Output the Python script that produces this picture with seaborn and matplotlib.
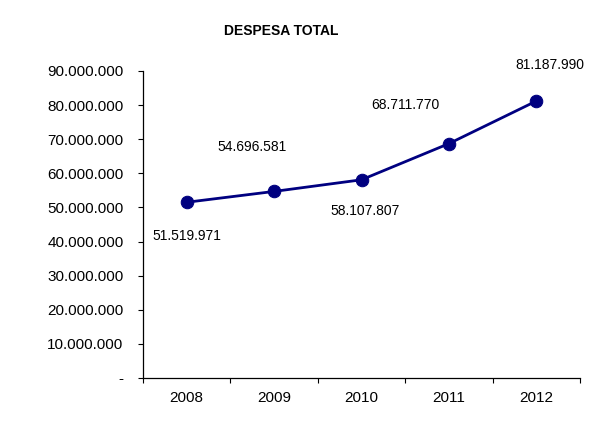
import matplotlib
matplotlib.use("Agg")
import matplotlib.pyplot as plt
import seaborn as sns
import pandas as pd

years = ["2008", "2009", "2010", "2011", "2012"]
values = [51519971, 54696581, 58107807, 68711770, 81187990]
label_texts = ["51.519.971", "54.696.581", "58.107.807", "68.711.770", "81.187.990"]
y_ticks = [0, 10000000, 20000000, 30000000, 40000000, 50000000, 60000000, 70000000, 80000000, 90000000]

sns.set_theme(style="white")
plt.rcParams['font.family'] = ['Liberation Sans', 'DejaVu Sans']
plt.rcParams['text.color'] = 'black'
plt.rcParams['xtick.color'] = 'black'
plt.rcParams['ytick.color'] = 'black'

df = pd.DataFrame({"year": years, "value": values})

fig = plt.figure(figsize=(5.91, 4.38), dpi=100)
ax = fig.add_axes([143/591, 1 - 378/438, (580-143)/591, (378-71)/438])

sns.lineplot(data=df, x="year", y="value", ax=ax, color="#000080", linewidth=2,
             marker="o", markersize=9, markeredgecolor="#000080", sort=False)

ax.set_xlim(-0.5, 4.5)
ax.set_ylim(0, 90000000)
ax.set_yticks(y_ticks)
ax.set_yticklabels(["-" if v == 0 else f"{v:,}".replace(",", ".") for v in y_ticks], fontsize=11)
ax.set_xticks(range(len(years)))
ax.set_xticklabels(years, fontsize=11)
ax.tick_params(axis="x", length=0, pad=9)
ax.tick_params(axis="y", left=True, length=3.6, width=0.8, color="black", pad=10.5)
ax.set_xticks([x - 0.5 for x in range(len(years) + 1)], minor=True)
ax.tick_params(axis="x", which="minor", bottom=True, length=3.6, width=0.8, color="black")
ax.set_xlabel("")
ax.set_ylabel("")
for s in ["top", "right"]:
    ax.spines[s].set_visible(False)
for s in ["left", "bottom"]:
    ax.spines[s].set_color("black")
    ax.spines[s].set_linewidth(0.9)

offsets = [(0, -34), (-22, 44), (4, -31), (-44, 39), (14, 36)]
for i, (v, t) in enumerate(zip(values, label_texts)):
    ax.annotate(t, (i, v), xytext=offsets[i], textcoords="offset pixels",
                ha="center", va="center", fontsize=10, color="black")

fig.text(281/591, 1 - 31/438, "DESPESA TOTAL", ha="center", va="center",
         fontsize=10, fontweight="bold", color="black")

fig.savefig("out.png", dpi=100)
